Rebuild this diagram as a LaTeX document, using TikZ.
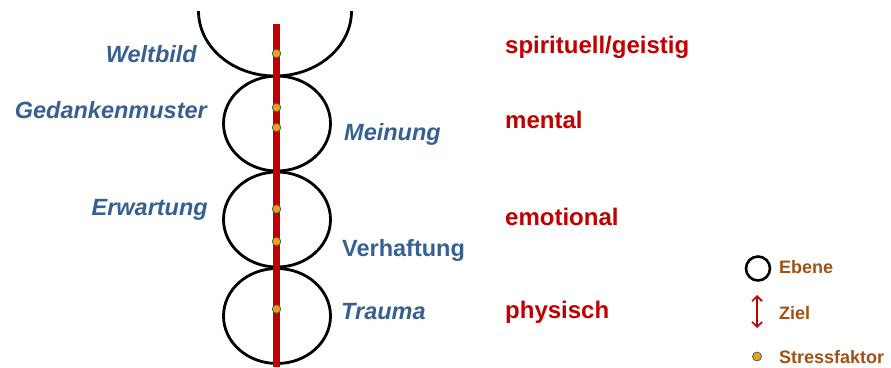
\documentclass[tikz,border=0pt]{standalone}
\usepackage{fontspec}
\setmainfont{Liberation Sans}
\usetikzlibrary{shapes.geometric,arrows.meta}
\definecolor{lblue}{RGB}{55,96,146}
\definecolor{lred}{RGB}{192,0,0}
\definecolor{lbrown}{RGB}{160,82,20}
\definecolor{dotfill}{RGB}{245,160,10}
\definecolor{dotline}{RGB}{60,100,110}
\tikzset{
  ebene/.style={draw=black, line width=2.8pt, ellipse, inner sep=0pt, minimum width=107pt, minimum height=95pt},
  stress/.style={circle, draw=dotline, fill=dotfill, line width=0.8pt, inner sep=0pt, minimum size=8.5pt},
  blab/.style={inner sep=0pt, text=lblue, font=\fontsize{23.5}{28}\selectfont\bfseries\itshape},
  blabu/.style={inner sep=0pt, text=lblue, font=\fontsize{23.5}{28}\selectfont\bfseries},
  rlab/.style={inner sep=0pt, text=lred, font=\fontsize{24}{28}\selectfont\bfseries, anchor=base west},
  leg/.style={inner sep=0pt, text=lbrown, font=\fontsize{18}{22}\selectfont\bfseries, anchor=base west},
  ziel/.style={draw=lred, line width=1.6pt, {Straight Barb[length=5pt,width=10pt]}-{Straight Barb[length=5pt,width=10pt]}}
}
\begin{document}
\begin{tikzpicture}[x=1pt,y=-1pt]
\useasboundingbox (0,0) rectangle (891,367);
% top (clipped) ellipse
\begin{scope}
\clip (0,11) rectangle (891,367);
\draw[line width=2.8pt] (275,11) ellipse [x radius=76.5, y radius=65];
\end{scope}
% level ellipses
\node[ebene] (e2) at (277,123.5) {};
\node[ebene] (e3) at (277,219.5) {};
\node[ebene] (e4) at (277,316) {};
% red axis
\coordinate (atop) at (276.5,24);
\coordinate (abot) at (276.5,367);
\draw[lred, line width=7pt] (atop) -- (abot);
% stress factors
\node[stress] (s1) at (276.5,53.5) {};
\node[stress] (s2) at (276.5,107.5) {};
\node[stress] (s3) at (276.5,127.5) {};
\node[stress] (s4) at (276.5,209) {};
\node[stress] (s5) at (276.5,241.5) {};
\node[stress] (s6) at (276.5,309) {};
% blue labels
\node[blab, anchor=base east] (weltbild) at (197,62) {Weltbild};
\node[blab, anchor=base east] (gedanken) at (207,118) {Gedankenmuster};
\node[blab, anchor=base west] (meinung) at (344,140) {Meinung};
\node[blab, anchor=base east] (erwartung) at (208,215) {Erwartung};
\node[blabu, anchor=base west] (verhaftung) at (342,256) {Verhaftung};
\node[blab, anchor=base west] (trauma) at (341,319) {Trauma};
% red level names
\node[rlab] (spirit) at (505,53) {spirituell/geistig};
\node[rlab] (mental) at (505,128) {mental};
\node[rlab] (emot) at (505,225) {emotional};
\node[rlab] (phys) at (505,318.5) {physisch};
% legend
\node[circle, draw=black, line width=2.6pt, inner sep=0pt, minimum size=24pt] (legc) at (758,268.5) {};
\node[leg] (lebene) at (779,273) {Ebene};
\coordinate (zt) at (757,295);
\coordinate (zb) at (757,328);
\draw[ziel] (zt) -- (zb);
\node[leg] (lziel) at (779,319) {Ziel};
\node[stress, minimum size=9pt] (legd) at (757,356.5) {};
\node[leg] (lstress) at (779,363) {Stressfaktor};
\end{tikzpicture}
\end{document}
